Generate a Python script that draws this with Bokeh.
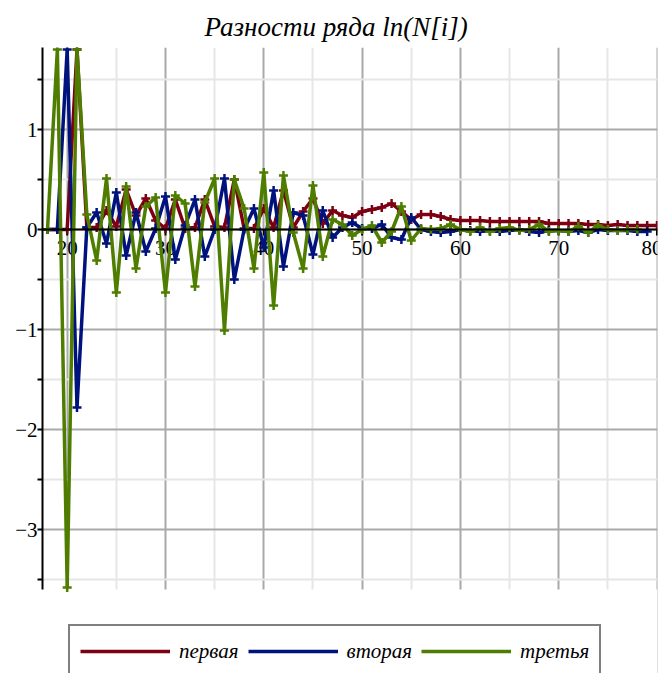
from bokeh.plotting import figure
from bokeh.models import (FixedTicker, Grid, Span, Legend, LegendItem, LinearAxis,
                          Range1d, ColumnDataSource, BoxAnnotation)
from bokeh.core.properties import value
from bokeh.embed import file_html
from bokeh.resources import INLINE

# ---------------- data ----------------
title_text = "Разности ряда ln(N[i])"
series_names = ["первая", "вторая", "третья"]
series_colors = ["#7d0012", "#00127d", "#4e7d00"]

idx_first = list(range(18, 81))
first = [0.00, 0.00, 0.00, 1.80, 0.02, 0.02, 0.19, 0.03, 0.40, 0.14,
         0.31, 0.09, 0.01, 0.30, 0.01, 0.02, 0.30, 0.03, 0.02, 0.50,
         0.01, 0.01, 0.21, 0.02, 0.39, 0.02, 0.18, 0.31, 0.06, 0.19,
         0.14, 0.12, 0.18, 0.20, 0.22, 0.26, 0.18, 0.10, 0.15, 0.15,
         0.13, 0.10, 0.09, 0.09, 0.09, 0.08, 0.08, 0.08, 0.08, 0.08,
         0.08, 0.06, 0.06, 0.06, 0.06, 0.05, 0.05, 0.04, 0.05, 0.04,
         0.04, 0.04, 0.04]

idx_second = list(range(18, 80))
second = [0.00, 0.00, 1.80, -1.78, 0.02, 0.17, -0.14, 0.37, -0.26, 0.17,
          -0.22, 0.01, 0.33, -0.30, 0.04, 0.30, -0.27, 0.00, 0.51, -0.50,
          0.00, 0.21, -0.18, 0.39, -0.37, 0.17, 0.14, -0.25, 0.19, -0.08,
          0.02, 0.07, 0.01, 0.01, 0.05, -0.08, -0.10, 0.12, 0.00, -0.02,
          -0.03, -0.02, 0.00, -0.01, -0.02, -0.01, -0.02, -0.01, 0.00, -0.02,
          -0.03, -0.01, -0.01, -0.02, -0.01, -0.03, 0.00, -0.01, -0.01, -0.01,
          -0.02, -0.02]

idx_third = list(range(18, 79))
third = [0.00, 1.80, -3.58, 1.80, 0.15, -0.31, 0.51, -0.63, 0.43, -0.39,
         0.23, 0.32, -0.63, 0.34, 0.26, -0.57, 0.27, 0.51, -1.01, 0.50,
         0.21, -0.39, 0.57, -0.76, 0.54, -0.03, -0.39, 0.44, -0.27, 0.10,
         0.05, -0.06, 0.00, 0.04, -0.13, -0.02, 0.23, -0.11, 0.01, 0.00,
         0.01, 0.05, 0.00, -0.02, 0.02, -0.02, 0.01, 0.02, -0.01, 0.00,
         0.05, -0.02, -0.01, -0.02, 0.03, -0.03, 0.04, 0.00, -0.01, 0.00,
         0.00]

x_ticks = [20, 30, 40, 50, 60, 70, 80]
x_tick_labels = ["20", "30", "40", "50", "60", "70", "80"]
x_minor = [25, 35, 45, 55, 65, 75]
y_ticks = [-3, -2, -1, 0, 1]
y_tick_labels = ["−3", "−2", "−1", "0", "1"]
y_minor = [-3.5, -2.5, -1.5, -0.5, 0.5, 1.5]
y_view = (-3.60, 1.82)       # visible data window of the plot

# ---------------- figure ----------------
# the frame runs down to the page bottom so the legend (below the data window)
# can live inside it; the part below the data window is blanked out.
FONT = "Liberation Serif"
PX_PER_UNIT = 100.0
bottom_extra = 84 / PX_PER_UNIT
p = figure(width=663, height=673,
           x_range=Range1d(17.49, 80.05),
           y_range=Range1d(y_view[0] - bottom_extra, y_view[1]),
           output_backend="svg", toolbar_location=None,
           x_axis_location=None, y_axis_location=None,
           min_border_left=42, min_border_right=6,
           min_border_top=47, min_border_bottom=0)
p.outline_line_color = None
p.center = []

p.title.text = title_text
p.title.text_font = FONT
p.title.text_font_style = "italic"
p.title.text_font_size = "27px"
p.title.text_color = "black"
p.title.align = "left"
p.title.offset = 162
p.title.vertical_align = "top"
p.title.standoff = 8

yt = FixedTicker(ticks=y_ticks, minor_ticks=y_minor)
xt = FixedTicker(ticks=x_ticks, minor_ticks=x_minor)

yaxis = LinearAxis(ticker=yt, bounds=y_view,
                   major_label_overrides={t: l for t, l in zip(y_ticks, y_tick_labels)},
                   axis_line_color="black", axis_line_width=2,
                   major_tick_line_color="black", major_tick_line_width=2,
                   minor_tick_line_color="black", minor_tick_line_width=2,
                   major_tick_in=0, major_tick_out=5,
                   minor_tick_in=0, minor_tick_out=5,
                   major_label_text_font=FONT,
                   major_label_text_font_size="21px",
                   major_label_text_color="black",
                   major_label_standoff=0)
p.add_layout(yaxis, "left")

for dim, tk in ((0, xt), (1, yt)):
    g = Grid(dimension=dim, ticker=tk,
             grid_line_color="#a9a9a9", grid_line_width=2,
             minor_grid_line_color="#e6e6e6", minor_grid_line_width=2)
    p.add_layout(g, "center")

# blank strip below the data window (hides grid lines there)
p.add_layout(BoxAnnotation(top=y_view[0], fill_color="white", fill_alpha=1,
                           line_alpha=0, level="underlay"))

# x axis drawn through y = 0
p.add_layout(Span(location=0, dimension="width", line_color="black", line_width=2))
tick_len = 0.06
p.segment(x0=x_ticks, y0=[0] * len(x_ticks), x1=x_ticks, y1=[-tick_len] * len(x_ticks),
          line_color="black", line_width=2)
lbl_src = ColumnDataSource(dict(x=x_ticks, y=[0] * len(x_ticks), t=x_tick_labels,
                                dx=[0] * (len(x_ticks) - 1) + [-5]))
p.text(x="x", y="y", text="t", x_offset="dx", source=lbl_src,
       text_font=value(FONT), text_font_size="21px", text_align="center",
       text_baseline="top", y_offset=11, text_color="black")

items = []
for xs, ys, name, col in zip((idx_first, idx_second, idx_third),
                             (first, second, third), series_names, series_colors):
    src = ColumnDataSource(dict(x=xs, y=ys))
    ln = p.line("x", "y", source=src, line_color=col, line_width=3.5)
    p.scatter("x", "y", source=src, marker="cross", size=9, line_width=2.5,
              line_color=col)
    items.append(LegendItem(label=name, renderers=[ln]))

legend = Legend(items=items, orientation="horizontal", location=(26, -5),
                glyph_width=90, glyph_height=30, label_standoff=9, spacing=9,
                padding=10, margin=0,
                border_line_color="black", border_line_width=2,
                label_text_font=FONT, label_text_font_style="italic",
                label_text_font_size="21px", label_text_color="black",
                background_fill_color="white", background_fill_alpha=1)
p.add_layout(legend, "center")

open("out.html", "w").write(file_html(p, INLINE))
